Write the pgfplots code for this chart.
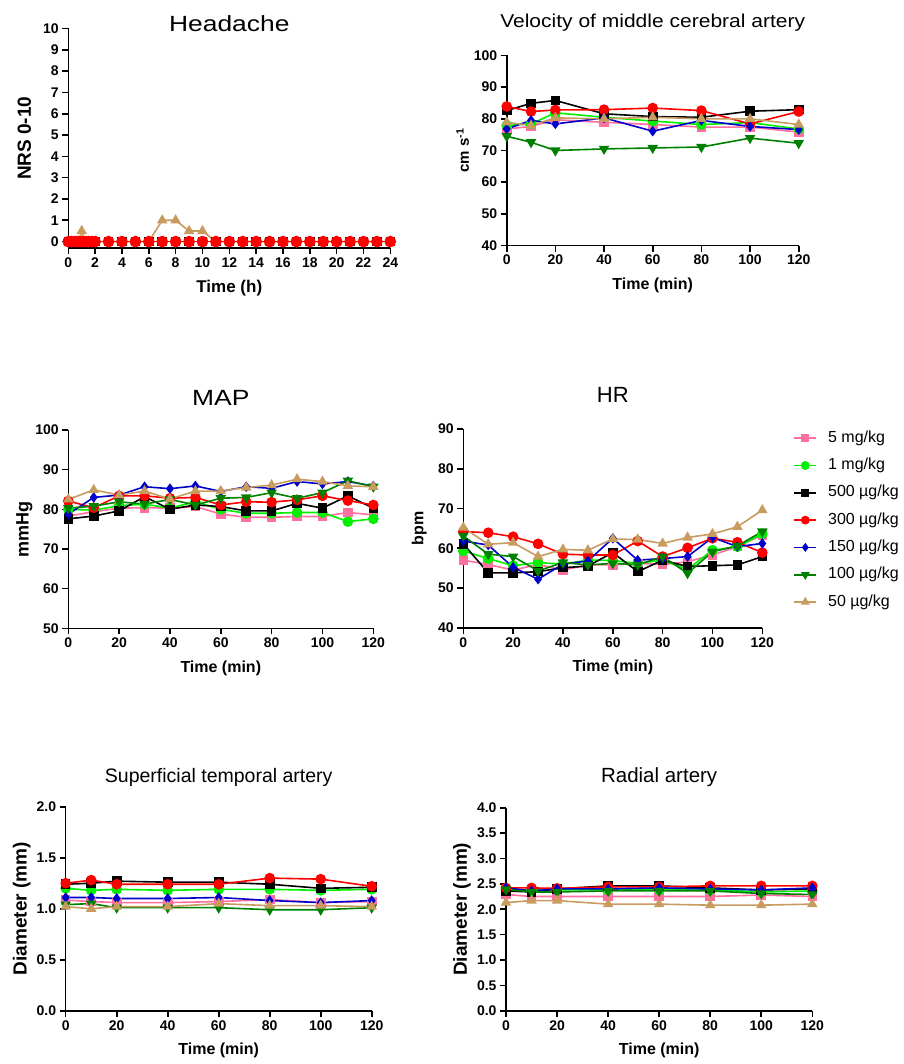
\documentclass[border=0pt]{standalone}
\usepackage{fontspec}
\setmainfont{Liberation Sans}
\usepackage{pgfplots}
\usepackage{pgfplotstable}
\pgfplotsset{compat=1.18}

\definecolor{cpink}{HTML}{FF6FA0}
\definecolor{clime}{HTML}{00F000}
\definecolor{cred}{HTML}{FF0000}
\definecolor{cblue}{HTML}{0000CC}
\definecolor{cdgreen}{HTML}{008000}
\definecolor{ctan}{HTML}{C89B5F}

% headache: t, zero line (all other groups), 50 ug/kg
\pgfplotstableread{
t z n
0 0 0
0.25 0 0
0.5 0 0
0.75 0 0
1 0 0.5
1.25 0 0
1.5 0 0
1.75 0 0
2 0 0
3 0 0
4 0 0
5 0 0
6 0 0
7 0 1
8 0 1
9 0 0.5
10 0 0.5
11 0 0
12 0 0
13 0 0
14 0 0
15 0 0
16 0 0
17 0 0
18 0 0
19 0 0
20 0 0
21 0 0
22 0 0
23 0 0
24 0 0
}\tabHead

% columns: p=5mg/kg l=1mg/kg k=500 r=300 b=150 g=100 n=50 ug/kg
\pgfplotstableread{
t p l k r b g n
0 76.8 77.9 82.6 83.9 76.8 74.5 78.9
10 77.6 78.4 84.9 82.3 79.5 72.6 77.9
20 79.7 81.9 85.8 82.8 78.4 70.0 80.3
40 78.9 80.5 81.6 82.9 80.3 70.5 80.0
60 78.2 79.3 80.7 83.4 76.1 70.8 80.5
80 77.4 78.2 80.5 82.6 79.5 71.1 80.0
100 77.4 78.8 82.4 78.4 77.6 73.9 80.0
120 75.8 76.8 82.9 82.3 76.6 72.3 78.2
}\tabVel

\pgfplotstableread{
t p l k r b g n
0 78.3 80.0 77.6 82.1 78.8 80.3 82.5
10 79.4 79.8 78.3 80.4 83.0 80.8 84.9
20 80.3 80.9 79.6 83.4 83.6 81.9 83.6
30 80.4 81.3 83.2 83.4 85.7 81.3 84.6
40 80.3 80.3 80.0 82.8 85.2 82.5 82.6
50 80.7 81.9 81.1 83.0 85.9 81.1 84.6
60 78.8 80.0 80.7 81.1 84.5 82.8 84.6
70 78.0 79.0 79.6 81.9 85.7 83.0 85.5
80 78.0 79.0 79.6 81.8 85.3 84.2 86.1
90 78.2 79.2 81.5 82.4 87.0 82.8 87.6
100 78.2 79.2 80.3 83.4 86.4 84.2 87.0
110 79.2 76.9 83.4 82.2 87.0 87.2 85.9
120 78.6 77.6 80.3 81.1 85.9 85.7 85.7
}\tabMAP

\pgfplotstableread{
t p l k r b g n
0 57.0 59.3 61.1 64.2 61.8 63.1 65.2
10 55.9 57.4 53.8 63.9 60.8 58.5 61.0
20 54.5 55.6 53.8 62.9 55.2 57.9 61.4
30 55.9 56.4 54.1 61.1 52.2 54.3 57.9
40 54.5 56.0 55.1 58.5 56.0 56.4 59.7
50 55.8 57.0 55.5 58.3 56.8 55.8 59.5
60 55.8 56.9 58.9 58.3 62.5 56.2 62.3
70 56.2 56.2 54.1 61.8 57.0 55.8 62.2
80 55.9 57.0 57.0 57.9 57.4 57.9 61.2
90 56.6 54.7 55.4 60.1 57.9 53.7 62.7
100 58.3 59.5 55.6 62.5 62.7 59.1 63.6
110 60.4 60.4 55.8 61.5 60.4 60.6 65.4
120 63.3 63.6 57.9 58.9 61.2 64.2 69.6
}\tabHR

\pgfplotstableread{
t p l k r b g n
0 1.085 1.20 1.24 1.25 1.11 1.04 1.02
10 1.07 1.18 1.25 1.28 1.11 1.05 1.00
20 1.06 1.19 1.27 1.24 1.10 1.01 1.02
40 1.06 1.18 1.26 1.24 1.10 1.01 1.02
60 1.07 1.19 1.26 1.24 1.11 1.01 1.05
80 1.09 1.19 1.24 1.30 1.08 0.99 1.03
100 1.06 1.18 1.20 1.29 1.06 0.99 1.03
120 1.07 1.19 1.21 1.22 1.08 1.01 1.02
}\tabSTA

\pgfplotstableread{
t p l k r b g n
0 2.29 2.39 2.36 2.42 2.42 2.39 2.13
10 2.25 2.38 2.34 2.42 2.36 2.34 2.17
20 2.25 2.38 2.40 2.41 2.40 2.34 2.17
40 2.25 2.38 2.46 2.44 2.40 2.36 2.10
60 2.25 2.38 2.46 2.44 2.42 2.36 2.10
80 2.25 2.38 2.42 2.46 2.40 2.36 2.08
100 2.28 2.34 2.38 2.46 2.38 2.31 2.08
120 2.25 2.36 2.40 2.46 2.42 2.29 2.10
}\tabRA

\pgfplotsset{
  gp/.style={
    scale only axis,
    axis lines=left,
    axis line style={-, line width=1.6pt},
    tick style={black, line width=1.6pt},
    tick align=outside,
    major tick length=6pt,
    ticklabel style={font=\bfseries\fontsize{14}{14}\selectfont},
    /pgf/number format/assume math mode=true,
    every axis title/.style={at={(axis description cs:0.5,1)}, anchor=base},
    xlabel style={at={([yshift=-40pt]axis description cs:0.5,0)}, anchor=center,
      font=\bfseries\fontsize{16}{16}\selectfont},
    ylabel style={at={([xshift=-44pt]axis description cs:0,0.5)}, anchor=center},
    every axis plot/.append style={line width=1.6pt},
    clip=false,
    xmin=0, xmax=120, xtick={0,20,...,120},
    xlabel={Time (min)},
  },
  ylf/.style={ylabel style={font=\bfseries\fontsize{#1}{#1}\selectfont}},
  s5/.style={cpink, mark=square*, mark size=4pt},
  s1/.style={clime, mark=*, mark size=4.5pt},
  s500/.style={black, mark=square*, mark size=4pt},
  s300/.style={cred, mark=*, mark size=4.5pt},
  s150/.style={cblue, mark=diamond*, mark size=4pt},
  s100/.style={cdgreen, mark=triangle*, mark size=4.5pt, mark options={rotate=180}},
  s50/.style={ctan, mark=triangle*, mark size=4.5pt},
}

\newcommand\allseries[1]{%
  \addplot[s5] table[x=t, y=p] {#1};
  \addplot[s1] table[x=t, y=l] {#1};
  \addplot[s500] table[x=t, y=k] {#1};
  \addplot[s300] table[x=t, y=r] {#1};
  \addplot[s150] table[x=t, y=b] {#1};
  \addplot[s100] table[x=t, y=g] {#1};
  \addplot[s50] table[x=t, y=n] {#1};
}

\begin{document}
\begin{tikzpicture}
\useasboundingbox (0pt,0pt) rectangle (903pt,-1064pt);

% Headache
\begin{axis}[gp, at={(68.3pt,-248pt)}, anchor=south west, width=322pt, height=219.5pt,
  xmin=0, xmax=24, xtick={0,2,...,24}, ymin=-0.3, ymax=10, ytick={0,1,...,10},
  xlabel={Time (h)}, ylabel={NRS 0-10}, ylf=19,
  xlabel style={font=\bfseries\fontsize{17}{17}\selectfont},
  title={Headache}, title style={yshift=-3.5pt, xscale=1.2, font=\fontsize{22}{22}\selectfont}]
  \addplot[s5] table[x=t, y=z] {\tabHead};
  \addplot[s1] table[x=t, y=z] {\tabHead};
  \addplot[s500] table[x=t, y=z] {\tabHead};
  \addplot[s150] table[x=t, y=z] {\tabHead};
  \addplot[s100] table[x=t, y=z] {\tabHead};
  \addplot[s50] table[x=t, y=n] {\tabHead};
  \addplot[s300, mark size=5pt] table[x=t, y=z] {\tabHead};
\end{axis}

% Velocity
\begin{axis}[gp, at={(506.7pt,-245.5pt)}, anchor=south west, width=292pt, height=190pt,
  ymin=40, ymax=100, ytick={40,50,...,100},
  ylabel={cm s\textsuperscript{-1}}, ylf=15,
  title={Velocity of middle cerebral artery},
  title style={yshift=27.5pt, xscale=1.13, font=\fontsize{18.6}{19}\selectfont}]
  \allseries{\tabVel}
\end{axis}

% MAP
\begin{axis}[gp, at={(68.3pt,-628.3pt)}, anchor=south west, width=305pt, height=198.3pt,
  ymin=50, ymax=100, ytick={50,60,...,100},
  ylabel={mmHg}, ylf=18,
  title={MAP}, title style={yshift=25pt, xscale=1.2, font=\fontsize{22}{22}\selectfont}]
  \allseries{\tabMAP}
\end{axis}

% HR
\begin{axis}[gp, at={(463.3pt,-627.7pt)}, anchor=south west, width=299pt, height=198.7pt,
  ymin=40, ymax=90, ytick={40,50,...,90},
  ylabel={bpm}, ylf=16,
  title={HR}, title style={yshift=27pt, font=\fontsize{22}{22}\selectfont},
  legend entries={5 mg/kg, 1 mg/kg, 500 µg/kg, 300 µg/kg, 150 µg/kg, 100 µg/kg, 50 µg/kg},
  legend cell align=left,
  legend style={at={(1,1)}, anchor=north west, xshift=31pt, yshift=-2pt, draw=none, fill=none,
    font=\fontsize{16}{16}\selectfont, inner sep=0pt, row sep=13.3pt, column sep=11pt,
    nodes={inner sep=0pt, text height=11pt, text depth=3pt}},
  legend image code/.code={\draw[mark repeat=2, mark phase=2, /tikz/every mark/.append style={scale=0.8}]
    plot coordinates {(0pt,0pt) (11pt,0pt) (22pt,0pt)};}]
  \allseries{\tabHR}
\end{axis}

% Superficial temporal artery
\begin{axis}[gp, at={(65.7pt,-1010.7pt)}, anchor=south west, width=306pt, height=204pt,
  ymin=0, ymax=2, ytick={0,0.5,...,2},
  yticklabel style={/pgf/number format/.cd, fixed, fixed zerofill, precision=1},
  ylabel={Diameter (mm)}, ylf=19,
  title={Superficial temporal artery}, title style={yshift=24.7pt, font=\fontsize{19.5}{20}\selectfont}]
  \allseries{\tabSTA}
\end{axis}

% Radial artery
\begin{axis}[gp, at={(506pt,-1010.7pt)}, anchor=south west, width=306.3pt, height=203pt,
  ymin=0, ymax=4, ytick={0,0.5,...,4},
  yticklabel style={/pgf/number format/.cd, fixed, fixed zerofill, precision=1},
  ylabel={Diameter (mm)}, ylf=19,
  title={Radial artery}, title style={yshift=25.7pt, font=\fontsize{20.5}{21}\selectfont}]
  \allseries{\tabRA}
\end{axis}
\end{tikzpicture}
\end{document}
